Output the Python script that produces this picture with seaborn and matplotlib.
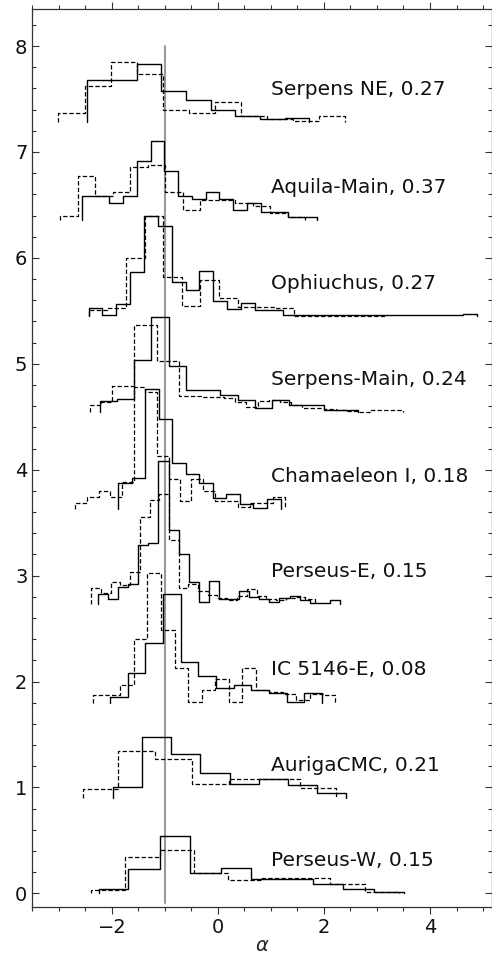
import numpy as np
import matplotlib
matplotlib.use("Agg")
import matplotlib.pyplot as plt
import seaborn as sns

# ---------------- data ----------------
clouds = ["Perseus-W, 0.15", "AurigaCMC, 0.21", "IC 5146-E, 0.08", "Perseus-E, 0.15",
          "Chamaeleon I, 0.18", "Serpens-Main, 0.24", "Ophiuchus, 0.27",
          "Aquila-Main, 0.37", "Serpens NE, 0.27"]
offsets = [0.0, 0.90, 1.80, 2.73, 3.63, 4.545, 5.45, 6.355, 7.28]

pw_solid_edges = [-2.25, -1.69, -1.09, -0.52, 0.06, 0.63, 1.21, 1.79, 2.36, 2.94, 3.51]
pw_solid_vals = [0.045, 0.23, 0.54, 0.19, 0.24, 0.135, 0.135, 0.09, 0.045, 0.01]
pw_dash_edges = [-2.39, -1.75, -1.09, -0.46, 0.19, 0.84, 1.48, 2.12, 2.77, 3.41]
pw_dash_vals = [0.03, 0.345, 0.405, 0.19, 0.13, 0.14, 0.14, 0.088, 0.015]

au_solid_edges = [-1.98, -1.43, -0.885, -0.34, 0.22, 0.77, 1.32, 1.87, 2.42]
au_solid_vals = [0.106, 0.578, 0.418, 0.233, 0.13, 0.18, 0.12, 0.05]
au_dash_edges = [-2.55, -1.875, -1.19, -0.49, 0.20, 0.87, 1.54, 2.22]
au_dash_vals = [0.084, 0.446, 0.368, 0.13, 0.18, 0.18, 0.09]

ic_solid_edges = [-2.03, -1.70, -1.37, -1.03, -0.70, -0.37, -0.03, 0.30, 0.63, 0.97, 1.30, 1.63, 1.97]
ic_solid_vals = [0.05, 0.28, 0.565, 1.03, 0.38, 0.25, 0.135, 0.17, 0.12, 0.09, 0.01, 0.09]
ic_dash_edges = [-2.35, -2.09, -1.84, -1.58, -1.33, -1.07, -0.81, -0.56, -0.30, -0.05, 0.21,
                 0.46, 0.72, 0.97, 1.23, 1.48, 1.74, 2.00, 2.20]
ic_dash_vals = [0.07, 0.07, 0.17, 0.60, 1.22, 0.69, 0.33, 0.01, 0.12, 0.22, 0.01, 0.33,
                0.12, 0.10, 0.08, 0.03, 0.08, 0.07]

pe_solid_edges = [-2.27, -2.08, -1.89, -1.70, -1.51, -1.32, -1.13, -0.93, -0.74, -0.55, -0.36,
                  -0.17, 0.02, 0.21, 0.40, 0.59, 0.78, 0.97, 1.16, 1.36, 1.55, 1.74, 1.93, 2.12, 2.31]
pe_solid_vals = [0.10, 0.05, 0.165, 0.19, 0.56, 0.58, 1.35, 0.70, 0.47, 0.21, 0.02, 0.22,
                 0.045, 0.045, 0.125, 0.07, 0.05, 0.02, 0.06, 0.075, 0.035, 0.01, 0.01, 0.035]
pe_dash_edges = [-2.39, -2.21, -2.02, -1.84, -1.66, -1.47, -1.29, -1.11, -0.92, -0.74, -0.56,
                 -0.37, -0.19, -0.01, 0.18, 0.36, 0.54, 0.73, 0.91, 1.09, 1.28, 1.46, 1.64, 1.83]
pe_dash_vals = [0.15, 0.11, 0.21, 0.18, 0.30, 0.825, 0.98, 1.04, 0.61, 0.155, 0.195, 0.12,
                0.09, 0.06, 0.04, 0.08, 0.14, 0.08, 0.05, 0.04, 0.06, 0.07, 0.05]

ch_solid_edges = [-1.875, -1.62, -1.37, -1.12, -0.86, -0.61, -0.35, -0.10, 0.16, 0.42, 0.67, 0.93, 1.19]
ch_solid_vals = [0.24, 0.29, 1.13, 0.85, 0.43, 0.33, 0.24, 0.10, 0.145, 0.05, 0.01, 0.09]
ch_dash_edges = [-2.69, -2.47, -2.25, -2.03, -1.81, -1.59, -1.37, -1.15, -0.93, -0.72, -0.50,
                 -0.28, -0.06, 0.16, 0.38, 0.60, 0.82, 1.04, 1.26]
ch_dash_vals = [0.06, 0.11, 0.17, 0.11, 0.25, 1.15, 1.10, 0.50, 0.28, 0.07, 0.28, 0.17,
                0.07, 0.07, 0.015, 0.06, 0.06, 0.11]

sm_solid_edges = [-2.23, -1.905, -1.58, -1.255, -0.93, -0.605, -0.28, 0.045, 0.37, 0.695,
                  1.02, 1.345, 1.67, 1.995, 2.32, 2.645]
sm_solid_vals = [0.10, 0.125, 0.49, 0.90, 0.43, 0.205, 0.205, 0.16, 0.11, 0.04, 0.115,
                 0.065, 0.065, 0.02, 0.015]
sm_dash_edges = [-2.42, -2.21, -2.00, -1.79, -1.58, -1.37, -1.15, -0.94, -0.73, -0.52, -0.31,
                 -0.10, 0.11, 0.32, 0.53, 0.75, 0.96, 1.17, 1.38, 1.59, 1.80, 2.01, 2.22,
                 2.43, 2.65, 2.86, 3.07, 3.28, 3.49]
sm_dash_vals = [0.065, 0.095, 0.245, 0.245, 0.82, 0.82, 0.48, 0.48, 0.155, 0.15, 0.145, 0.14,
                0.13, 0.09, 0.05, 0.10, 0.11, 0.09, 0.07, 0.04, 0.04, 0.03, 0.02, 0.005,
                0.0, 0.015, 0.02, 0.02]

op_solid_edges = [-2.44, -2.18, -1.92, -1.66, -1.39, -1.13, -0.87, -0.61, -0.35, -0.09, 0.17,
                  0.44, 0.70, 0.96, 1.22, 1.48, 1.74, 2.00, 2.27, 2.53, 2.79, 3.05, 3.31,
                  3.57, 3.83, 4.10, 4.36, 4.62, 4.88]
op_solid_vals = [0.08, 0.015, 0.11, 0.42, 0.95, 0.85, 0.32, 0.245, 0.43, 0.14, 0.07, 0.12,
                 0.055, 0.055, 0.008, 0.008, 0.008, 0.008, 0.008, 0.008, 0.008, 0.008,
                 0.008, 0.008, 0.008, 0.008, 0.008, 0.02]
op_dash_edges = [-2.44, -2.09, -1.74, -1.38, -1.03, -0.68, -0.33, 0.02, 0.38, 0.73, 1.08,
                 1.43, 1.78, 2.14, 2.49, 2.84, 3.19]
op_dash_vals = [0.055, 0.08, 0.55, 0.95, 0.365, 0.10, 0.345, 0.175, 0.09, 0.09, 0.08,
                0.005, 0.005, 0.003, 0.003, 0.003]

aq_solid_edges = [-2.57, -2.31, -2.05, -1.79, -1.53, -1.27, -1.01, -0.75, -0.49, -0.23, 0.03,
                  0.29, 0.55, 0.81, 1.07, 1.33, 1.59, 1.86]
aq_solid_vals = [0.225, 0.225, 0.165, 0.225, 0.56, 0.745, 0.465, 0.225, 0.205, 0.265, 0.2,
                 0.10, 0.165, 0.075, 0.075, 0.035, 0.035]
aq_dash_edges = [-2.975, -2.645, -2.31, -1.98, -1.65, -1.32, -0.99, -0.66, -0.33, 0.0, 0.33,
                 0.66, 0.99, 1.32, 1.65]
aq_dash_vals = [0.04, 0.415, 0.225, 0.265, 0.505, 0.525, 0.265, 0.10, 0.19, 0.195, 0.165,
                0.135, 0.065, 0.035]

sn_solid_edges = [-2.46, -1.995, -1.53, -1.065, -0.60, -0.135, 0.33, 0.795, 1.26, 1.725]
sn_solid_vals = [0.395, 0.395, 0.555, 0.30, 0.215, 0.12, 0.055, 0.03, 0.04]
sn_dash_edges = [-3.01, -2.51, -2.02, -1.53, -1.04, -0.55, -0.06, 0.44, 0.93, 1.42, 1.91, 2.40]
sn_dash_vals = [0.09, 0.34, 0.57, 0.455, 0.12, 0.09, 0.19, 0.055, 0.03, 0.01, 0.055]

solid_sets = [(pw_solid_edges, pw_solid_vals), (au_solid_edges, au_solid_vals),
              (ic_solid_edges, ic_solid_vals), (pe_solid_edges, pe_solid_vals),
              (ch_solid_edges, ch_solid_vals), (sm_solid_edges, sm_solid_vals),
              (op_solid_edges, op_solid_vals), (aq_solid_edges, aq_solid_vals),
              (sn_solid_edges, sn_solid_vals)]
dash_sets = [(pw_dash_edges, pw_dash_vals), (au_dash_edges, au_dash_vals),
             (ic_dash_edges, ic_dash_vals), (pe_dash_edges, pe_dash_vals),
             (ch_dash_edges, ch_dash_vals), (sm_dash_edges, sm_dash_vals),
             (op_dash_edges, op_dash_vals), (aq_dash_edges, aq_dash_vals),
             (sn_dash_edges, sn_dash_vals)]

# ---------------- style ----------------
sns.set_style("ticks")
plt.rcParams["font.family"] = ["DejaVu Sans"]
plt.rcParams["mathtext.fontset"] = "dejavusans"

fig = plt.figure(figsize=(4.92, 9.56), dpi=100)
ax = fig.add_axes([0.0657, 0.0516, 0.9333, 0.939])


def step_path(edges, vals, off):
    e = np.asarray(edges, float)
    v = np.asarray(vals, float) + off
    xs = np.repeat(e, 2)
    ys = np.concatenate([[off], np.repeat(v, 2), [off]])
    return xs, ys


for (edges, vals), off in zip(dash_sets, offsets):
    xs, ys = step_path(edges, vals, off)
    sns.lineplot(x=xs, y=ys, sort=False, estimator=None, ax=ax, color="black",
                 linewidth=0.9, linestyle=(0, (3.5, 1.8)))
for (edges, vals), off in zip(solid_sets, offsets):
    xs, ys = step_path(edges, vals, off)
    sns.lineplot(x=xs, y=ys, sort=False, estimator=None, ax=ax, color="black",
                 linewidth=1.0)

ax.plot([-1, -1], [-0.09, 8.0], color="#999999", linewidth=1.5, zorder=0.5)

for name, off in zip(clouds, offsets):
    ax.text(1.0, off + 0.31, name, fontsize=14.5, va="center", ha="left", color="#111111")

ax.set_xlim(-3.5, 5.16)
ax.set_ylim(-0.126, 8.35)
ax.set_xticks([-2, 0, 2, 4])
ax.set_xticklabels(["\u22122", "0", "2", "4"])
ax.set_yticks(range(0, 9))
ax.xaxis.set_minor_locator(matplotlib.ticker.MultipleLocator(0.5))
ax.yaxis.set_minor_locator(matplotlib.ticker.MultipleLocator(0.2))
ax.tick_params(which="both", labelsize=14, color="#333333", labelcolor="#111111", width=0.8)
ax.tick_params(axis="x", which="both", direction="out", top=True)
ax.tick_params(axis="y", which="both", direction="in", right=True)
ax.tick_params(which="major", length=4.8)
ax.tick_params(which="minor", length=2.8)
for s in ax.spines.values():
    s.set_color("#333333")
    s.set_linewidth(0.9)
ax.set_xlabel(r"$\alpha$", fontsize=14, labelpad=-1)
ax.set_ylabel("")

fig.savefig("out.png", dpi=100)
